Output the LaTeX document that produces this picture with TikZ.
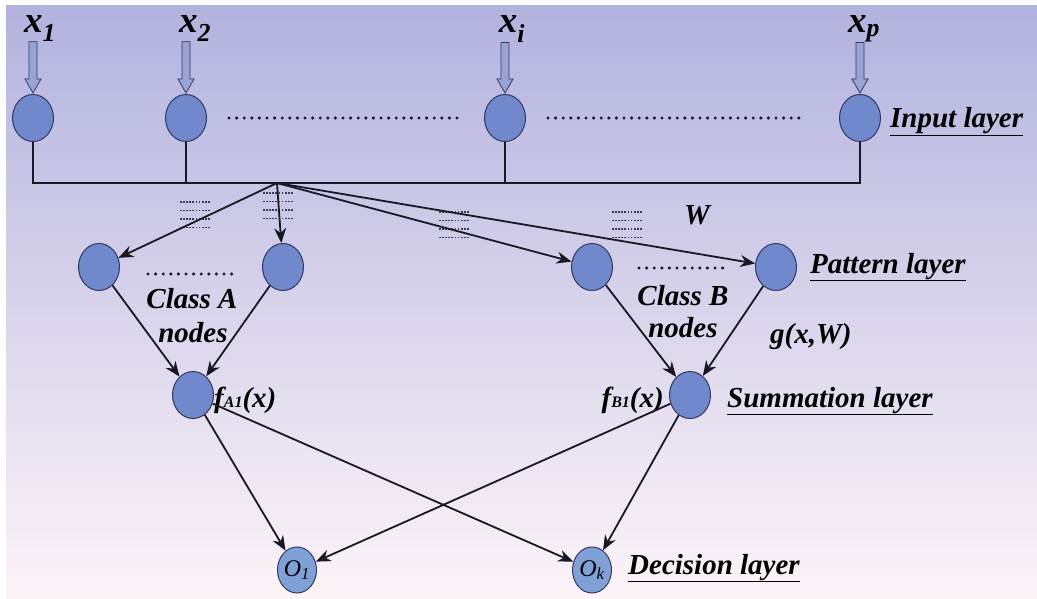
\documentclass[tikz,border=0pt]{standalone}
\usepackage{fontspec}
\setmainfont{Liberation Serif}
\usetikzlibrary{shapes.geometric,arrows.meta,calc}

\definecolor{nodefill}{RGB}{112,136,204}
\definecolor{nodeedge}{RGB}{50,56,96}
\definecolor{outfill}{RGB}{128,160,216}
\definecolor{linecol}{RGB}{24,24,34}
\definecolor{bgtop}{RGB}{178,178,222}
\definecolor{bgmid}{RGB}{228,198,230}
\definecolor{bgbot}{RGB}{253,244,248}
\definecolor{arrowfill}{RGB}{152,164,214}
\definecolor{hatchcol}{RGB}{60,60,80}

% hollow block arrow from a label down to a node
\newcommand\inarrow[2]{%
  \draw[draw=nodeedge, fill=arrowfill, line width=0.8pt]
    let \p1=(#1.south), \p2=(#2.north) in
    (\x2-4pt,\y1) -- (\x2+4pt,\y1) -- (\x2+4pt,\y2+15pt) -- (\x2+8pt,\y2+15pt)
    -- (\x2,\y2+1pt) -- (\x2-8pt,\y2+15pt) -- (\x2-4pt,\y2+15pt) -- cycle;}

\tikzset{
  neuron/.style={ellipse, draw=nodeedge, fill=nodefill, line width=1pt,
    minimum width=41pt, minimum height=47pt, inner sep=0pt},
  outneuron/.style={neuron, fill=outfill, minimum width=39pt, minimum height=46pt,
    font=\fontsize{24}{25}\selectfont\itshape},
  link/.style={draw=linecol, line width=1.8pt, -{Stealth[length=15pt,width=12pt]}},
  bus/.style={draw=linecol, line width=1.4pt},
  dots/.style={draw=linecol, line width=3.4pt, line cap=round, dash pattern=on 0pt off 7.6pt},
  hatch/.style={draw=hatchcol, line width=1.1pt, dash pattern=on 1.8pt off 1.3pt},
  txt/.style={font=\fontsize{29}{31}\selectfont\bfseries\itshape, inner sep=0pt},
  inlabel/.style={font=\fontsize{37}{38}\selectfont\bfseries\itshape, inner sep=0pt, anchor=base},
}

\begin{document}
\begin{tikzpicture}[x=1pt,y=-1pt]
\useasboundingbox (0,0) rectangle (1037,599);
\fill[white] (0,0) rectangle (1037,599);
\shade[top color=bgtop, middle color=bgmid, bottom color=bgbot] (6,6) rectangle (1037,599);

% input layer
\node[neuron] (in1) at (33,118) {};
\node[neuron] (in2) at (186,118) {};
\node[neuron] (ini) at (505,118) {};
\node[neuron] (inp) at (860,118) {};
\node[inlabel] (lx1) at (40,33) {x\textsubscript{1}};
\node[inlabel] (lx2) at (195,33) {x\textsubscript{2}};
\node[inlabel] (lxi) at (512,33) {x\textsubscript{i}};
\node[inlabel] (lxp) at (864,33) {x\textsubscript{p}};
\inarrow{lx1}{in1}
\inarrow{lx2}{in2}
\inarrow{lxi}{ini}
\inarrow{lxp}{inp}
\draw[dots] (229,118) -- (462,118);
\draw[dots] (548,118) -- (800,118);
\node[txt, anchor=base west] (linput) at (890,128) {\underline{Input layer}};

% bus
\coordinate (fan) at (277,183);
\draw[bus] (in1.south) |- (fan) -| (inp.south);
\draw[bus] (in2.south) -- (in2.south |- fan);
\draw[bus] (ini.south) -- (ini.south |- fan);

% weight marks
\foreach \hx/\hy in {180/202, 263/193, 439/212, 612/212}
  \foreach \k in {0,1,2,3}
    \draw[hatch] (\hx,\hy+8.5*\k) -- (\hx+30,\hy+8.5*\k);

% pattern layer
\node[neuron] (pa1) at (99,267) {};
\node[neuron] (pa2) at (283,267) {};
\node[neuron] (pb1) at (592,267) {};
\node[neuron] (pb2) at (776,267) {};
\foreach \t in {pa1,pa2,pb1,pb2}
  \draw[link] (fan) -- (\t);
\node[txt, anchor=base] (lw) at (697,225) {W};
\draw[dots] (148,274) -- (238,274);
\draw[dots] (639,268) -- (730,268);
\node[txt, anchor=base] (lca) at (192,308) {Class A};
\node[txt, anchor=base] (lna) at (193,342) {nodes};
\node[txt, anchor=base] (lcb) at (683,305) {Class B};
\node[txt, anchor=base] (lnb) at (683,337) {nodes};
\node[txt, anchor=base west] (lg) at (770,343) {g(x,W)};
\node[txt, anchor=base west] (lpattern) at (810,273) {\underline{Pattern layer}};

% summation layer
\node[neuron] (sa) at (193,395) {};
\node[neuron] (sb) at (690,395) {};
\draw[link] (pa1) -- (sa);
\draw[link] (pa2) -- (sa);
\draw[link] (pb1) -- (sb);
\draw[link] (pb2) -- (sb);
\node[txt, anchor=base west] (lfa) at (214,407) {f{\fontsize{16}{17}\selectfont A1}(x)};
\node[txt, anchor=base east] (lfb) at (664,407) {f{\fontsize{16}{17}\selectfont B1}(x)};
\node[txt, anchor=base west] (lsum) at (727,407) {\underline{Summation layer}};

% decision layer
\node[outneuron] (o1) at (297,570) {O\textsubscript{1}};
\node[outneuron] (ok) at (592,570) {O\textsubscript{k}};
\draw[link] (sa) -- (o1);
\draw[link] (sa) -- (ok);
\draw[link] (sb) -- (o1);
\draw[link] (sb) -- (ok);
\node[txt, anchor=base west] (ldec) at (628,574) {\underline{Decision layer}};
\end{tikzpicture}
\end{document}
